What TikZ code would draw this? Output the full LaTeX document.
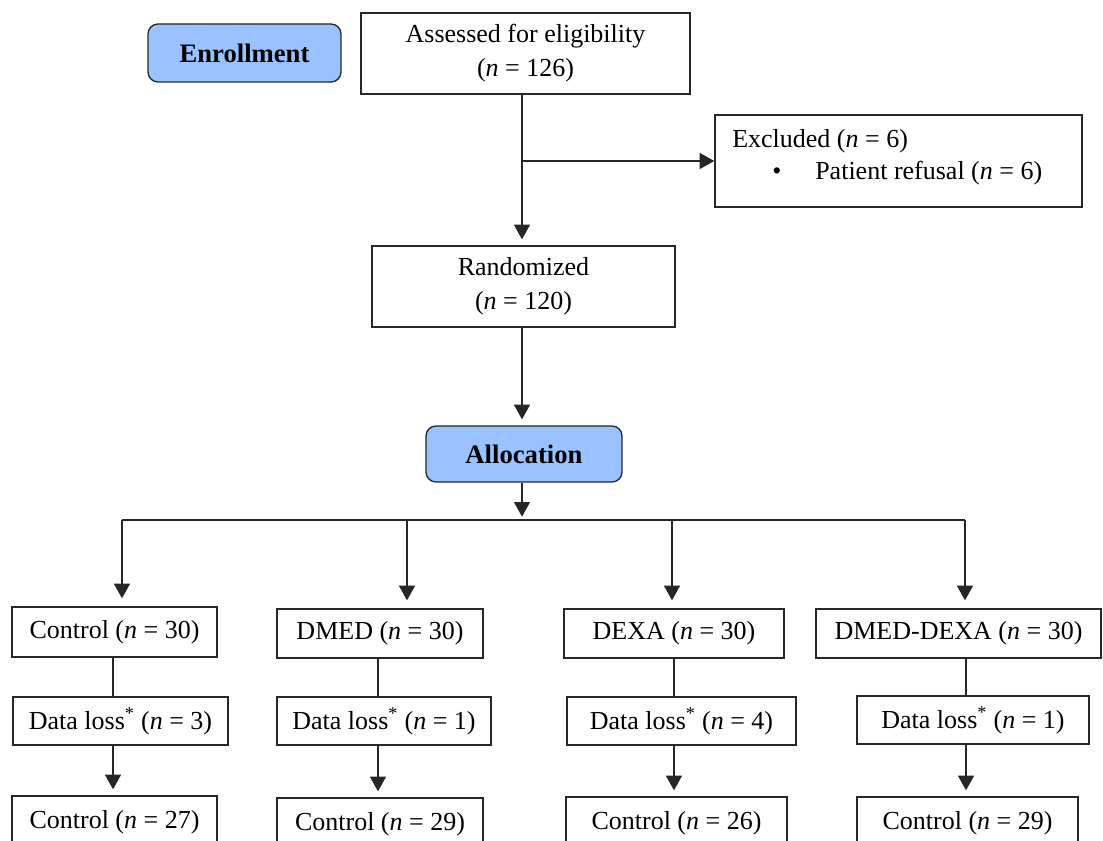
\documentclass[tikz,border=0pt]{standalone}
\usepackage{fontspec}
\setmainfont{Liberation Serif}
\usetikzlibrary{arrows.meta}
\definecolor{phaseblue}{RGB}{153,194,255}
\definecolor{edgegray}{RGB}{40,40,40}
\newcommand\mybox[7]{\node[#1,minimum width={(#5-#3)*0.75pt},minimum height={(#6-#4)*0.75pt}] (#2) at ({(#3+#5)/2},{(#4+#6)/2}) {#7};}
\begin{document}
\begin{tikzpicture}[x=0.75pt,y=-0.75pt,
  every node/.style={font=\fontsize{19.5}{25.5}\selectfont},
  box/.style={draw=edgegray,line width=1pt,inner sep=0pt,align=center},
  phase/.style={draw=edgegray,line width=1pt,inner sep=0pt,rounded corners=7.5pt,fill=phaseblue,font=\fontsize{20}{24}\selectfont\bfseries},
  conn/.style={draw=black!85,line width=1pt},
  arr/.style={conn,-{Triangle[length=11pt,width=12pt]}}]
\useasboundingbox (0,0) rectangle (1103,841);
\clip (0,0) rectangle (1103,841);
% top
\mybox{phase}{enroll}{148}{24}{341}{82}{Enrollment}
\mybox{box}{assess}{361}{13}{690}{94}{Assessed for eligibility\\(\textit{n} = 126)}
\mybox{box}{excl}{715}{115}{1082}{207}{}
\node[anchor=base west,inner sep=0pt] (exclt) at (732,148) {Excluded (\textit{n} = 6)};
\node[anchor=base west,inner sep=0pt] (bul) at (772,180) {\textbullet};
\node[anchor=base west,inner sep=0pt] (refu) at (815,180) {Patient refusal (\textit{n} = 6)};
\mybox{box}{rand}{372}{246}{675}{327}{Randomized\\(\textit{n} = 120)}
\mybox{phase}{alloc}{426}{426}{622}{482}{Allocation}
% row 1
\mybox{box}{c1}{12}{607}{217}{657}{Control (\textit{n} = 30)}
\mybox{box}{c2}{277}{609}{483}{658}{DMED (\textit{n} = 30)}
\mybox{box}{c3}{564}{609}{784}{658}{DEXA (\textit{n} = 30)}
\mybox{box}{c4}{816}{609}{1101}{658}{DMED-DEXA (\textit{n} = 30)}
% row 2
\mybox{box}{d1}{13}{697}{228}{745}{Data loss\textsuperscript{*} (\textit{n} = 3)}
\mybox{box}{d2}{277}{697}{491}{745}{Data loss\textsuperscript{*} (\textit{n} = 1)}
\mybox{box}{d3}{567}{697}{796}{745}{Data loss\textsuperscript{*} (\textit{n} = 4)}
\mybox{box}{d4}{857}{696}{1089}{744}{Data loss\textsuperscript{*} (\textit{n} = 1)}
% row 3
\mybox{box}{e1}{12}{796}{217}{848}{Control (\textit{n} = 27)}
\mybox{box}{e2}{277}{798}{483}{850}{Control (\textit{n} = 29)}
\mybox{box}{e3}{566}{797}{787}{849}{Control (\textit{n} = 26)}
\mybox{box}{e4}{857}{797}{1078}{849}{Control (\textit{n} = 29)}
% connectors
\coordinate (m) at (522,0);
\coordinate (b1) at (522,161);
\draw[arr,shorten >=4.5pt] (m |- assess.south) -- (m |- rand.north);
\draw[arr] (b1) -- (excl.west);
\draw[arr,shorten >=4.5pt] (m |- rand.south) -- (m |- alloc.north);
\coordinate (hj) at (522,520);
\draw[arr,shorten >=2.5pt] (m |- alloc.south) -- (hj);
\coordinate (h1) at (122,520);
\coordinate (h2) at (407,520);
\coordinate (h3) at (672,520);
\coordinate (h4) at (965,520);
\draw[conn] (h1) -- (h4);
\draw[arr,shorten >=6pt] (h1) -- (h1 |- c1.north);
\draw[arr,shorten >=6pt] (h2) -- (h2 |- c2.north);
\draw[arr,shorten >=6pt] (h3) -- (h3 |- c3.north);
\draw[arr,shorten >=6pt] (h4) -- (h4 |- c4.north);
\coordinate (k1) at (113,0);
\coordinate (k2) at (378,0);
\coordinate (k3) at (674,0);
\coordinate (k4) at (966,0);
\draw[conn] (k1 |- c1.south) -- (k1 |- d1.north);
\draw[conn] (k2 |- c2.south) -- (k2 |- d2.north);
\draw[conn] (k3 |- c3.south) -- (k3 |- d3.north);
\draw[conn] (k4 |- c4.south) -- (k4 |- d4.north);
\draw[arr,shorten >=4.5pt] (k1 |- d1.south) -- (k1 |- e1.north);
\draw[arr,shorten >=4.5pt] (k2 |- d2.south) -- (k2 |- e2.north);
\draw[arr,shorten >=4.5pt] (k3 |- d3.south) -- (k3 |- e3.north);
\draw[arr,shorten >=4.5pt] (k4 |- d4.south) -- (k4 |- e4.north);
\end{tikzpicture}
\end{document}
